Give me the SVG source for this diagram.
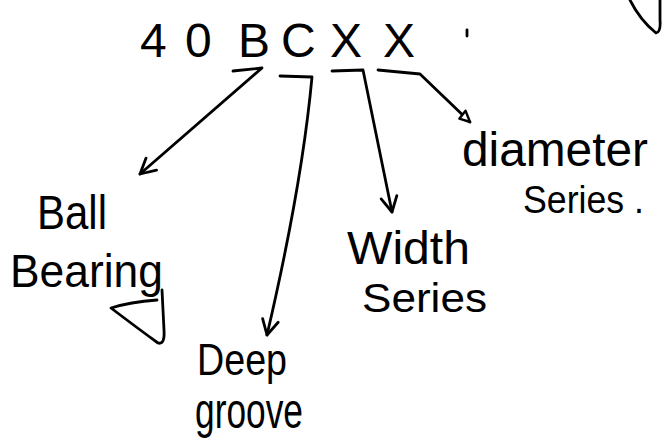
<svg xmlns="http://www.w3.org/2000/svg" width="664" height="444" viewBox="0 0 664 444">
<style>
  .t { font-family: "Liberation Sans", Arial, sans-serif; fill: #000; }
  .c { fill: none; stroke: #000; stroke-width: 2.8; stroke-linecap: round; stroke-linejoin: round; }
</style>
<defs>
  <marker id="v" markerUnits="userSpaceOnUse" markerWidth="24" markerHeight="24" viewBox="-20 -12 24 24" refX="0" refY="0" orient="auto">
    <path d="M-15,-8 L0,0 L-15,8" fill="none" stroke="#000" stroke-width="2.8" stroke-linecap="round" stroke-linejoin="round"/>
  </marker>
  <marker id="tri" markerUnits="userSpaceOnUse" markerWidth="20" markerHeight="20" viewBox="-16 -10 20 20" refX="0" refY="0" orient="auto">
    <path d="M-11,-5 L0,0 L-10,5 Z" fill="#fff" stroke="#000" stroke-width="2.4" stroke-linejoin="round"/>
  </marker>
</defs>
<rect width="664" height="444" fill="#fff"/>

<g id="code">
  <text class="t" font-size="48" x="140 185 212 238 281 330 383" y="57">40 BCXX</text>
  <path class="c" d="M467,30 L467,36"/>
</g>

<g id="connectors">
  <path class="c" d="M233,71 L262,68 L140,174" marker-end="url(#v)"/>
  <path class="c" d="M280,76 L312,77 Q302,185 267,335" marker-end="url(#v)"/>
  <path class="c" d="M332,71 L363,70 L392,212" marker-end="url(#v)"/>
  <path class="c" d="M378,70 L420,74 L470,122" marker-end="url(#tri)"/>
</g>

<g id="ball-bearing">
  <text class="t" font-size="48" x="37" y="229" textLength="70" lengthAdjust="spacingAndGlyphs">Ball</text>
  <text class="t" font-size="46" x="10" y="287" textLength="153" lengthAdjust="spacingAndGlyphs">Bearing</text>
  <path class="c" d="M157,300 Q130,302 111,308 Q140,330 158,343 Q165,345 164,330 L162,290"/>
</g>

<g id="deep-groove">
  <text class="t" font-size="44" x="197" y="375" textLength="90" lengthAdjust="spacingAndGlyphs">Deep</text>
  <text class="t" font-size="50" x="195" y="428" textLength="108" lengthAdjust="spacingAndGlyphs">groove</text>
</g>

<g id="width-series">
  <text class="t" font-size="46" x="347" y="264" textLength="123" lengthAdjust="spacingAndGlyphs">Width</text>
  <text class="t" font-size="40" x="362" y="312" textLength="125" lengthAdjust="spacingAndGlyphs">Series</text>
</g>

<g id="diameter-series">
  <text class="t" font-size="48" x="462" y="166" textLength="186" lengthAdjust="spacingAndGlyphs">diameter</text>
  <text class="t" font-size="38" x="523" y="213" textLength="121" lengthAdjust="spacingAndGlyphs">Series .</text>
</g>

<g id="corner-mark">
  <path class="c" d="M630,0 Q640,20 656,33 Q661,32 660,20 L660,0"/>
</g>
</svg>
